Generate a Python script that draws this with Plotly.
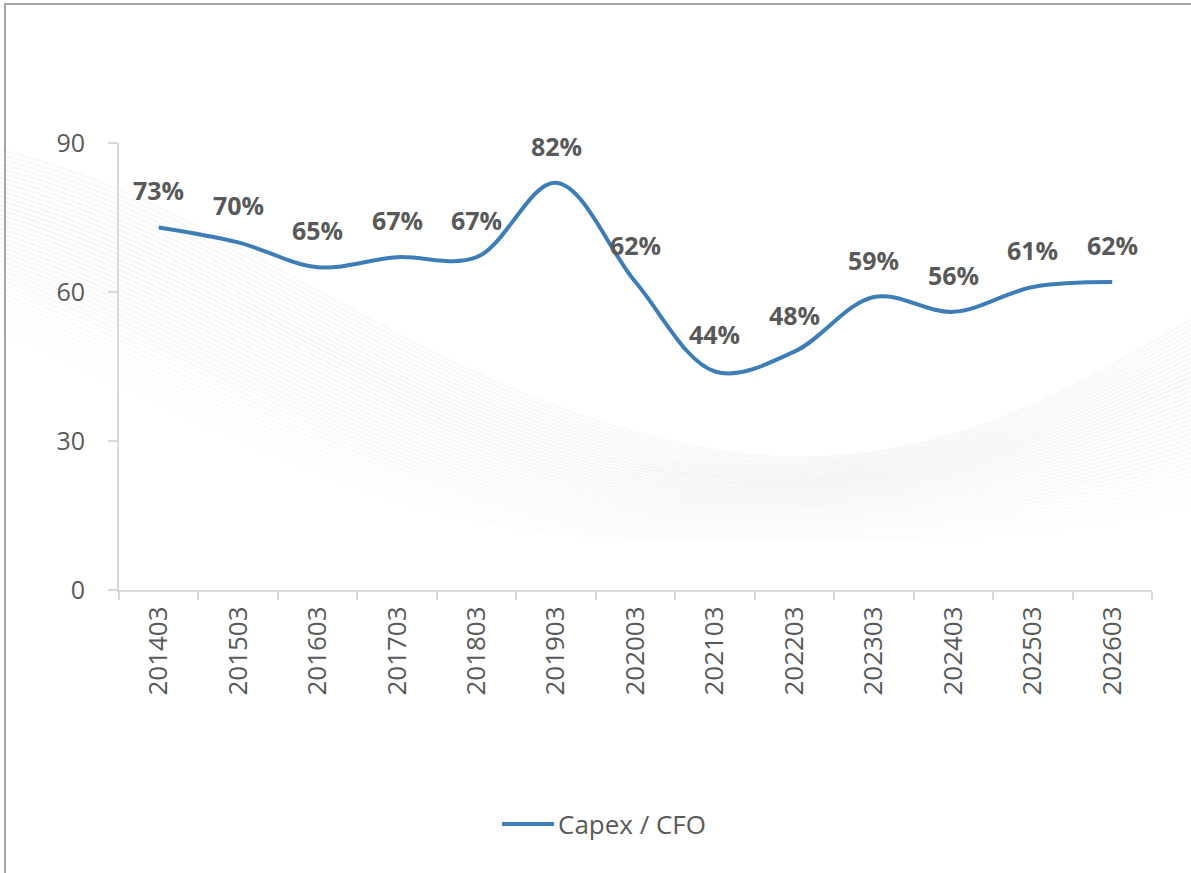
import numpy as np
import plotly.graph_objects as go

# Capex / CFO ratio by fiscal period (%)
periods = ["201403", "201503", "201603", "201703", "201803", "201903", "202003",
           "202103", "202203", "202303", "202403", "202503", "202603"]
capex_cfo = [73, 70, 65, 67, 67, 82, 62, 44, 48, 59, 56, 61, 62]
series_name = "Capex / CFO"
y_ticks = [0, 30, 60, 90]

LINE_COLOR = "#3E7DB6"
TEXT_COLOR = "#595959"
AXIS_COLOR = "#D9D9D9"
FONT = "Open Sans"

W, H = 1191, 873
L, R, T, B = 119, 39, 143, 283
pw, ph = W - L - R, H - T - B


def px_to_paper(x, y):
    return (x - L) / pw, (H - B - y) / ph


fig = go.Figure()

# decorative soft swoosh in the background, drawn as thin faded curves
# each edge: start, then two cubic segments (c1, c2, end)
top_edge = [(0, 150), (250, 210), (450, 420), (750, 455), (950, 475), (1100, 370), (1191, 320)]
bot_edge = [(0, 330), (200, 420), (400, 530), (600, 537), (900, 545), (1050, 540), (1191, 505)]
n_lines = 40
shapes = []
for i in range(n_lines):
    t = i / (n_lines - 1)
    pts = [((1 - t) * a[0] + t * b[0], (1 - t) * a[1] + t * b[1]) for a, b in zip(top_edge, bot_edge)]
    pp = [px_to_paper(x, y) for x, y in pts]
    path = f"M{pp[0][0]:.4f},{pp[0][1]:.4f} "
    path += f"C{pp[1][0]:.4f},{pp[1][1]:.4f} {pp[2][0]:.4f},{pp[2][1]:.4f} {pp[3][0]:.4f},{pp[3][1]:.4f} "
    path += f"C{pp[4][0]:.4f},{pp[4][1]:.4f} {pp[5][0]:.4f},{pp[5][1]:.4f} {pp[6][0]:.4f},{pp[6][1]:.4f}"
    alpha = 0.12 * (1 - abs(t - 0.3) * 1.1)
    shapes.append(dict(type="path", xref="paper", yref="paper", path=path,
                       line=dict(color=f"rgba(170,170,170,{max(alpha, 0.02):.3f})", width=2),
                       layer="below"))

# outer frame
fx0, fy0 = px_to_paper(5, 4)
fx1, fy1 = px_to_paper(W + 10, H + 10)
shapes.append(dict(type="rect", xref="paper", yref="paper", x0=fx0, y0=fy1, x1=fx1, y1=fy0,
                   line=dict(color="#A6A6A6", width=2), fillcolor="rgba(0,0,0,0)", layer="above"))

fig.add_trace(go.Scatter(
    x=periods, y=capex_cfo, mode="lines", name=series_name,
    line=dict(color=LINE_COLOR, width=4, shape="spline", smoothing=1.0),
    showlegend=False, cliponaxis=False,
))

# value labels above each point (x given as category index)
annotations = []
for i, v in enumerate(capex_cfo):
    annotations.append(dict(x=i, y=v, xref="x", yref="y", text=f"<b>{v}%</b>", showarrow=False,
                            yshift=37, font=dict(family=FONT, size=25, color=TEXT_COLOR)))

# legend drawn below the axis
lx0, ly = px_to_paper(502, 824)
lx1, _ = px_to_paper(554, 824)
shapes.append(dict(type="line", xref="paper", yref="paper", x0=lx0, x1=lx1, y0=ly, y1=ly,
                   line=dict(color=LINE_COLOR, width=4)))
tx, _ = px_to_paper(556, 822)
annotations.append(dict(xref="paper", yref="paper", x=tx, y=ly, xanchor="left", yanchor="middle",
                        text=series_name, showarrow=False,
                        font=dict(family=FONT, size=26, color=TEXT_COLOR)))

fig.update_layout(
    width=W, height=H,
    margin=dict(l=L, r=R, t=T, b=B),
    paper_bgcolor="white", plot_bgcolor="rgba(0,0,0,0)",
    shapes=shapes, annotations=annotations,
    showlegend=False,
    font=dict(family=FONT, color=TEXT_COLOR),
)
fig.update_xaxes(
    type="category", categoryarray=periods, range=[-0.5, len(periods) - 0.5],
    showgrid=False, showline=True, linecolor=AXIS_COLOR, linewidth=2,
    ticks="outside", tickson="boundaries", ticklen=8, tickcolor=AXIS_COLOR, tickwidth=2,
    tickangle=-90, tickfont=dict(family=FONT, size=26, color=TEXT_COLOR), ticklabelstandoff=4,
)
fig.update_yaxes(
    range=[0, 90], tickvals=y_ticks, showgrid=False, zeroline=False,
    showline=True, linecolor=AXIS_COLOR, linewidth=2,
    ticks="outside", ticklen=9, tickcolor=AXIS_COLOR, tickwidth=2,
    tickfont=dict(family=FONT, size=25, color=TEXT_COLOR), ticklabelstandoff=18,
)

fig.write_html("out.html")
